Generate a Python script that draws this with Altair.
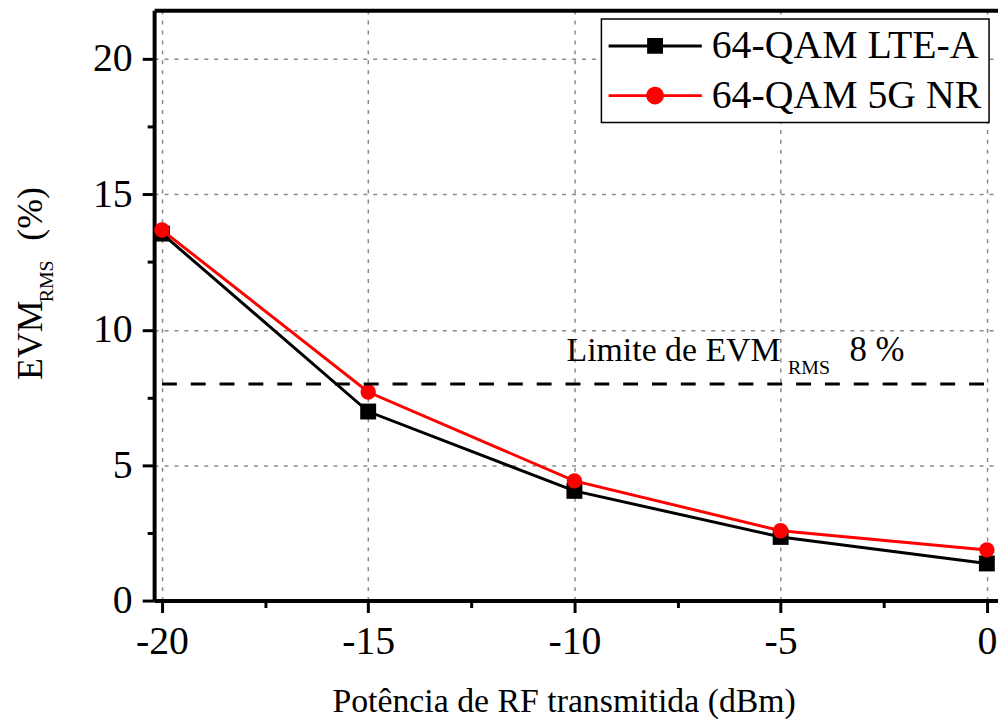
import altair as alt
import pandas as pd

# ---- data ----
power = [-20, -15, -10, -5, 0]
evm_lte = [13.55, 6.98, 4.05, 2.35, 1.37]
evm_nr = [13.68, 7.70, 4.42, 2.58, 1.87]
series = ["64-QAM LTE-A", "64-QAM 5G NR"]
limit_x = [-20, 0]
limit_y = [8]
x_major = [-20, -15, -10, -5, 0]
x_minor = [-17.5, -12.5, -7.5, -2.5]
y_major = [0, 5, 10, 15, 20]
y_minor = [2.5, 7.5, 12.5, 17.5]

ann_main = ["Limite de EVM"]
ann_sub = ["RMS"]
ann_pct = ["8 %"]

FONT = "Liberation Serif"

df = pd.DataFrame({
    "power": power + power,
    "evm": evm_lte + evm_nr,
    "series": [series[0]] * len(power) + [series[1]] * len(power),
})
limit_df = pd.DataFrame({"x": [limit_x[0]], "x2": [limit_x[1]], "y": limit_y})

xs = alt.Scale(domain=[-20.19, 0.27], nice=False, zero=False)
ys = alt.Scale(domain=[0, 21.8], nice=False, zero=False)

x_major_axis = alt.Axis(
    orient="bottom",
    values=x_major, labelExpr="'' + datum.value", labelFont=FONT, labelFontSize=40,
    labelColor="black", labelPadding=9, labelFlush=False, labelOverlap=False, labelBound=False,
    tickSize=12, tickWidth=3, tickColor="black", domainWidth=4, domainColor="black",
    grid=True, gridDash=[4, 6], gridColor="#8a8a8a", gridWidth=1.5,
    title="Potência de RF transmitida (dBm)", titleFont=FONT, titleFontSize=34,
    titleFontWeight="normal", titleColor="black", titlePadding=24, titleX=412,
)
y_major_axis = alt.Axis(
    orient="left",
    values=y_major, labelExpr="'' + datum.value", labelFont=FONT, labelFontSize=40,
    labelColor="black", labelPadding=10, labelFlush=False, labelOverlap=False, labelBound=False,
    tickSize=12, tickWidth=3, tickColor="black", domainWidth=4, domainColor="black",
    grid=True, gridDash=[4, 6], gridColor="#8a8a8a", gridWidth=1.5, title=None,
)
x_minor_axis = alt.Axis(orient="bottom", values=x_minor, labels=False, domain=False, grid=False,
                        tickSize=7, tickWidth=3, tickColor="black", title=None)
y_minor_axis = alt.Axis(orient="left", values=y_minor, labels=False, domain=False, grid=False,
                        tickSize=7, tickWidth=3, tickColor="black", title=None)
x_top_axis = alt.Axis(orient="top", labels=False, ticks=False, grid=False, domain=True,
                      domainWidth=4, domainColor="black", title=None)

lte = alt.Chart(df).transform_filter(alt.datum.series == series[0])
nr = alt.Chart(df).transform_filter(alt.datum.series == series[1])

lte_line = lte.mark_line(color="black", strokeWidth=3).encode(
    x=alt.X("power:Q", scale=xs, axis=x_major_axis),
    y=alt.Y("evm:Q", scale=ys, axis=y_major_axis),
)
lte_pts = lte.mark_point(shape="square", filled=True, color="black", size=256, opacity=1).encode(
    x=alt.X("power:Q", scale=xs, axis=x_minor_axis),
    y=alt.Y("evm:Q", scale=ys, axis=y_minor_axis),
)
nr_line = nr.mark_line(color="#ff0000", strokeWidth=3).encode(
    x=alt.X("power:Q", scale=xs, axis=x_top_axis),
    y=alt.Y("evm:Q", scale=ys, axis=None),
)
nr_pts = nr.mark_point(shape="circle", filled=True, color="#ff0000", size=240, opacity=1).encode(
    x=alt.X("power:Q", scale=xs, axis=None),
    y=alt.Y("evm:Q", scale=ys, axis=None),
)

limit_rule = alt.Chart(limit_df).mark_rule(color="black", strokeWidth=3, strokeDash=[15, 14]).encode(
    x=alt.X("x:Q", scale=xs, axis=None),
    x2="x2:Q",
    y=alt.Y("y:Q", scale=ys, axis=None),
)

ann_df = pd.DataFrame({"t": ann_main, "x": [-10.19], "y": [8.84]})
sub_df = pd.DataFrame({"t": ann_sub, "x": [-4.82], "y": [8.36]})
pct_df = pd.DataFrame({"t": ann_pct, "x": [-3.33], "y": [8.84]})

def ann_layer(d, size):
    return alt.Chart(d).mark_text(font=FONT, fontSize=size, align="left", baseline="alphabetic",
                                  color="black").encode(
        x=alt.X("x:Q", scale=xs, axis=None),
        y=alt.Y("y:Q", scale=ys, axis=None),
        text="t:N",
    )

ann1 = ann_layer(ann_df, 34)
ann2 = ann_layer(sub_df, 20)
ann3 = ann_layer(pct_df, 35)

# y-axis title with subscript
def ytitle(txt, size, px, py):
    return alt.Chart(pd.DataFrame({"t": [txt]})).mark_text(
        font=FONT, fontSize=size, angle=270, align="left", baseline="alphabetic", color="black"
    ).encode(text="t:N", x=alt.value(px), y=alt.value(py))

yt1 = ytitle("EVM", 36, -113, 372)
yt2 = ytitle("RMS", 20, -102, 294)
yt3 = ytitle("(%)", 36, -113, 232)

# legend (line + marker symbols)
sq_path = "M-1,-0.032H1V0.032H-1Z M-0.17,-0.17H0.17V0.17H-0.17Z"
circ_path = "M-1,-0.032H1V0.032H-1Z M-0.19,0A0.19,0.19,0,1,1,0.19,0A0.19,0.19,0,1,1,-0.19,0Z"
legend_proxy = alt.Chart(pd.DataFrame({"series": series})).transform_filter("false").mark_point(
    filled=True, opacity=1, size=8836
).encode(
    color=alt.Color("series:N", scale=alt.Scale(domain=series, range=["black", "#ff0000"]),
                    legend=alt.Legend(title=None)),
    shape=alt.Shape("series:N", scale=alt.Scale(domain=series, range=[sq_path, circ_path]),
                    legend=alt.Legend(title=None)),
)

chart = alt.layer(
    lte_line, lte_pts, nr_line, nr_pts, limit_rule, ann1, ann2, ann3, yt1, yt2, yt3, legend_proxy
).resolve_axis(x="independent", y="independent").properties(
    width=849, height=594,
    autosize=alt.AutoSizeParams(type="none"),
    padding={"left": 147, "top": 0, "right": 0, "bottom": 117},
).configure_view(strokeWidth=0).configure_legend(
    orient="top-right", offset=9, strokeColor="black", strokeWidth=1.5, fillColor="white",
    padding=7, labelFont=FONT, labelFontSize=40, labelColor="black", labelOffset=10,
    labelLimit=500, symbolSize=8836, symbolStrokeWidth=0, clipHeight=40, rowPadding=10,
    symbolOffset=0,
)

chart.save("out.html", embed_options={"renderer": "svg", "actions": False})
